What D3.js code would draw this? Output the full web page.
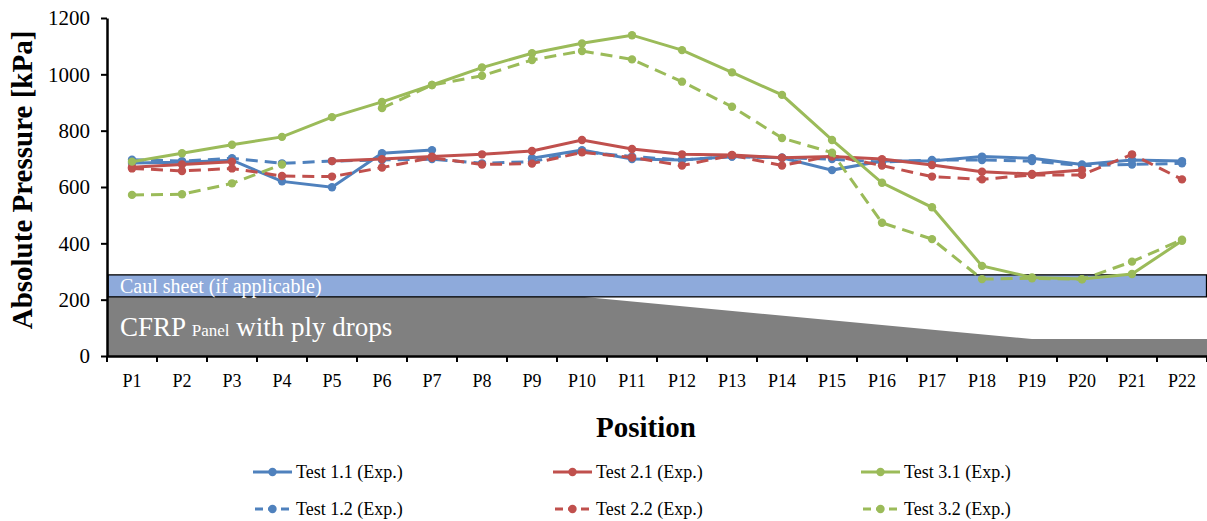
<!DOCTYPE html>
<html>
  <head>
    <meta charset="utf-8" />
    <script src="https://d3js.org/d3.v7.min.js"></script>
    <style>
      body { margin: 0; background: #fff; }
      svg, svg text { font-family: "Liberation Serif", "Times New Roman", serif; }
    </style>
  </head>
  <body>
    <svg id="chart" width="1207" height="521"></svg>
    <script>
      // positions along the panel
      const positions = ["P1","P2","P3","P4","P5","P6","P7","P8","P9","P10","P11",
        "P12","P13","P14","P15","P16","P17","P18","P19","P20","P21","P22"];
      const yTicks = [0, 200, 400, 600, 800, 1000, 1200];

      // measured absolute pressure [kPa], null = no reading
      const test11 = [685, 688, 695, 620, 599, 720, 731, null, 702, 731, 699, 696, 708, 704, 660, 692, 692, 708, 702, 680, 696, 692];
      const test12 = [697, 692, 702, 684, 692, 696, 699, 684, 690, 725, 708, 696, 708, 704, 699, 688, 696, 696, 692, 676, 680, 684];
      const test21 = [670, 680, 690, null, 692, 699, 708, 716, 728, 767, 735, 716, 714, 704, 708, 699, 678, 654, 646, 660, null, null];
      const test22 = [666, 657, 666, 639, 637, 669, 704, 680, 683, 723, 705, 676, 713, 676, 711, 676, 637, 627, 643, 643, 716, 627];
      const test31 = [690, 720, 750, 778, 848, 902, 962, 1024, 1075, 1110, 1139, 1086, 1007, 927, 767, 615, 528, 320, 279, 273, 291, 409];
      const test32 = [572, 574, 613, 680, null, 880, 962, 995, 1051, 1083, 1053, 974, 885, 774, 722, 473, 415, 273, 276, 272, 335, 413];

      const seriesNames = ["Test 1.1 (Exp.)", "Test 2.1 (Exp.)", "Test 3.1 (Exp.)",
        "Test 1.2 (Exp.)", "Test 2.2 (Exp.)", "Test 3.2 (Exp.)"];
      const seriesValues = [test11, test21, test31, test12, test22, test32];

      // schematic layers underneath (in kPa units of the axis)
      const caulSheet = [210, 288];
      const panelPos = ["start", "P10", "P19", "end"];
      const panelTop = [210, 210, 60, 60];

      const colors = ["#4f81bd", "#c0504d", "#9bbb59", "#4f81bd", "#c0504d", "#9bbb59"];
      const dashed = [false, false, false, true, true, true];

      const serif = '"Liberation Serif", "Times New Roman", serif';
      const svg = d3.select("#chart");
      const plotLeft = 107, plotRight = 1207, plotTop = 18, plotBottom = 356;

      const x = d3.scaleBand().domain(positions).range([plotLeft, plotRight]).padding(0);
      const y = d3.scaleLinear().domain([0, 1200]).range([plotBottom, plotTop]);
      const cx = (p) => x(p) + x.bandwidth() / 2;

      // CFRP panel with ply drops
      const panelX = (p) => (p === "start" ? plotLeft + 1 : p === "end" ? plotRight : cx(p));
      const panelPts = panelPos.map((p, i) => [panelX(p), y(panelTop[i])]);
      panelPts.push([plotRight, y(0)], [plotLeft + 1, y(0)]);
      svg.append("polygon")
        .attr("points", panelPts.map((d) => d.join(",")).join(" "))
        .attr("fill", "#808080");

      // caul sheet
      svg.append("rect")
        .attr("x", plotLeft + 1)
        .attr("y", y(caulSheet[1]))
        .attr("width", plotRight - plotLeft - 1.5)
        .attr("height", y(caulSheet[0]) - y(caulSheet[1]))
        .attr("fill", "#8eaadb")
        .attr("stroke", "#000")
        .attr("stroke-width", 1.3);

      svg.append("text")
        .attr("x", 120)
        .attr("y", 293)
        .attr("font-size", 20)
        .attr("fill", "#fff")
        .text("Caul sheet (if applicable)");

      const panelLabel = svg.append("text")
        .attr("x", 120)
        .attr("y", 336)
        .attr("font-size", 27)
        .attr("fill", "#fff");
      panelLabel.append("tspan").text("CFRP ");
      panelLabel.append("tspan").attr("font-size", 17).text("Panel");
      panelLabel.append("tspan").text(" with ply drops");

      // axes
      const yAxis = svg.append("g")
        .attr("transform", "translate(" + plotLeft + ",0)")
        .call(d3.axisLeft(y).tickValues(yTicks).tickFormat(d3.format("d"))
          .tickSize(6).tickSizeOuter(0).tickPadding(11));
      yAxis.attr("font-family", null);
      yAxis.select(".domain").attr("stroke-width", 2.5);
      yAxis.selectAll(".tick line").attr("stroke-width", 2);
      yAxis.selectAll("text").attr("font-size", 21).style("font-family", serif).attr("fill", "#000");

      const xAxis = svg.append("g")
        .attr("transform", "translate(0," + plotBottom + ")")
        .call(d3.axisBottom(x).tickSize(0).tickPadding(18));
      xAxis.attr("font-family", null);
      xAxis.select(".domain").attr("stroke-width", 2.5);
      xAxis.selectAll("text").attr("font-size", 18).style("font-family", serif).attr("fill", "#000");
      // tick marks between categories
      xAxis.selectAll(".sep")
        .data(positions)
        .enter()
        .append("line")
        .attr("x1", (d) => x(d) + x.bandwidth())
        .attr("x2", (d) => x(d) + x.bandwidth())
        .attr("y1", 0)
        .attr("y2", 6)
        .attr("stroke", "#000")
        .attr("stroke-width", 2);
      xAxis.append("line")
        .attr("x1", plotLeft).attr("x2", plotLeft).attr("y1", 0).attr("y2", 6)
        .attr("stroke", "#000").attr("stroke-width", 2);

      // series
      const line = d3.line()
        .defined((d) => d.v != null)
        .x((d) => cx(d.p))
        .y((d) => y(d.v));

      const order = [0, 3, 1, 4, 2, 5];
      order.forEach((i) => {
        const pts = positions.map((p, k) => ({ p: p, v: seriesValues[i][k] }));
        const g = svg.append("g");
        g.append("path")
          .datum(pts)
          .attr("d", line)
          .attr("fill", "none")
          .attr("stroke", colors[i])
          .attr("stroke-width", 3)
          .attr("stroke-dasharray", dashed[i] ? "12,7" : null);
        g.selectAll("circle")
          .data(pts.filter((d) => d.v != null))
          .enter()
          .append("circle")
          .attr("cx", (d) => cx(d.p))
          .attr("cy", (d) => y(d.v))
          .attr("r", 4.2)
          .attr("fill", colors[i]);
      });

      // axis titles
      svg.append("text")
        .attr("transform", "translate(32," + 180 + ") rotate(-90)")
        .attr("text-anchor", "middle")
        .attr("font-size", 29)
        .attr("font-weight", "bold")
        .text("Absolute Pressure [kPa]");

      svg.append("text")
        .attr("x", 646)
        .attr("y", 437)
        .attr("text-anchor", "middle")
        .attr("font-size", 29)
        .attr("font-weight", "bold")
        .text("Position");

      // legend
      const legX = [253, 553, 861];
      const legY = [472, 509];
      seriesNames.forEach((name, i) => {
        const lg = svg.append("g")
          .attr("transform", "translate(" + legX[i % 3] + "," + legY[Math.floor(i / 3)] + ")");
        lg.append("line")
          .attr("x1", 0).attr("x2", 39).attr("y1", 0).attr("y2", 0)
          .attr("stroke", colors[i])
          .attr("stroke-width", 3)
          .attr("stroke-dasharray", dashed[i] ? "8,5" : null)
          .attr("stroke-dashoffset", dashed[i] ? -2 : 0);
        lg.append("circle").attr("cx", 19.5).attr("cy", 0).attr("r", 4.2).attr("fill", colors[i]);
        lg.append("text")
          .attr("x", 43)
          .attr("y", 6)
          .attr("font-size", 18)
          .text(name);
      });
    </script>
  </body>
</html>
